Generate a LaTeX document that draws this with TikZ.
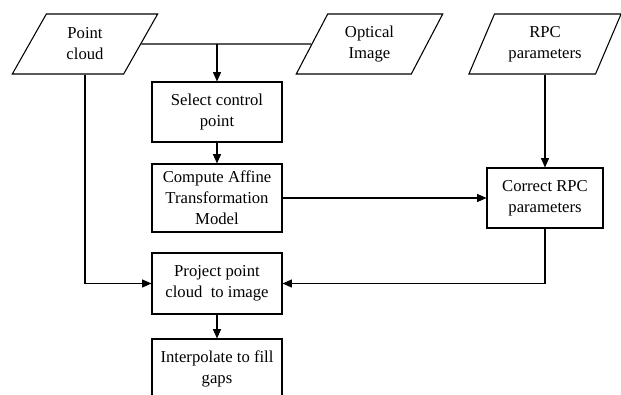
\documentclass[tikz,border=0pt]{standalone}
\usepackage{fontspec}
\setmainfont{Liberation Serif}
\usetikzlibrary{shapes.geometric,arrows.meta}
\begin{document}
\begin{tikzpicture}[x=0.75pt,y=-0.75pt,line width=0.8pt,
  font=\fontsize{12.5}{15.75}\selectfont,
  dado/.style={trapezium,draw,trapezium left angle=63.4,trapezium right angle=116.6,
    trapezium stretches=true,minimum height=45pt,align=center,inner sep=1pt},
  caixa/.style={rectangle,draw,align=center,inner sep=1pt,minimum width=97.5pt},
  seta/.style={-{Triangle[length=7pt,width=6pt]}}]

\clip (0,0) rectangle (621,395);

% entradas
\node[dado,minimum width=109.5pt] (pc) at (85,44) {Point\\cloud};
\node[dado,minimum width=110pt] (oi) at (369.5,44) {Optical\\Image};
\node[dado,minimum width=115pt] (rpc) at (545,44) {RPC\\parameters};

% processos
\node[caixa,minimum height=45pt] (sel) at (217,112) {Select control\\point};
\node[caixa,minimum height=51pt] (comp) at (217,198) {Compute Affine\\Transformation\\Model};
\node[caixa,minimum height=45.75pt] (proj) at (217,283.5) {Project point\\cloud~ to image};
\node[caixa,minimum height=45pt] (interp) at (217,369) {Interpolate to fill\\gaps};
\node[caixa,minimum width=87pt,minimum height=45pt] (corr) at (545,198) {Correct RPC\\parameters};

\coordinate (j) at (sel.north |- pc.east);

% ligacoes
\draw (pc.east) -- (oi.west);
\draw[seta] (j) -- (sel);
\draw[seta] (sel) -- (comp);
\draw[seta] (comp) -- (corr);
\draw[seta] (rpc.center |- rpc.south) -- (corr);
\draw[seta] (pc.center |- pc.south) |- (proj.west);
\draw[seta] (corr.south) |- (proj.east);
\draw[seta] (proj) -- (interp);

\end{tikzpicture}
\end{document}
